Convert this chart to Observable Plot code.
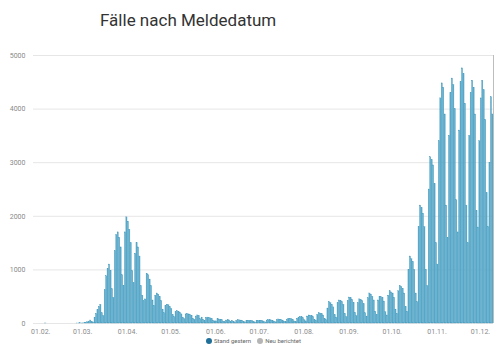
<!DOCTYPE html>
<html><head><meta charset="utf-8">
<script src="https://cdn.jsdelivr.net/npm/d3@7"></script>
<script src="https://cdn.jsdelivr.net/npm/@observablehq/plot@0.6"></script>
<style>
body{margin:0;background:#fff;font-family:Roboto,sans-serif;width:500px;height:352px;position:relative;overflow:hidden}
#title{position:absolute;left:100px;top:10px;font-size:17px;color:#333;}
#chart{position:absolute;left:0;top:44px}
#legend{position:absolute;top:337px;left:206px;font-size:6px;color:#666;display:flex;align-items:center;white-space:nowrap}
#legend .dot{display:inline-block;width:6px;height:6px;border-radius:50%;margin-right:2px}
#legend .item{display:flex;align-items:center;margin-right:6px}
</style></head>
<body>
<div id="title">Fälle nach Meldedatum</div>
<div id="chart"></div>
<div id="legend"></div>
<script>
const startDate = "2020-02-01";
const cases = [
  0,0,
  0,1,0,0,0,0,0,
  0,0,0,0,0,0,0,
  0,0,0,0,0,0,0,
  0,0,1,2,3,1,2,
  8,14,22,35,55,28,20,
  110,180,250,310,350,190,140,
  620,880,1020,1100,980,640,480,
  1350,1650,1700,1600,1420,900,700,
  1700,1980,1900,1750,1500,980,750,
  1300,1500,1420,1250,700,520,420,
  450,930,900,820,700,430,330,
  520,560,540,500,420,260,190,
  330,350,340,310,270,160,120,
  210,230,220,200,170,110,80,
  170,180,170,160,140,90,70,
  130,150,140,80,110,70,50,
  100,110,105,95,85,50,40,
  40,80,75,70,60,35,25,
  55,60,58,30,50,30,20,
  50,60,58,55,50,28,20,
  45,50,52,48,42,25,18,
  45,50,52,50,45,25,20,
  55,65,60,58,50,30,22,
  60,75,70,65,55,35,25,
  70,90,85,80,70,40,30,
  90,110,120,115,100,60,40,
  130,150,145,140,120,70,50,
  160,190,185,175,150,90,60,
  280,400,380,350,300,160,110,
  380,430,420,400,350,180,120,
  420,485,470,440,380,200,140,
  380,450,440,420,360,190,130,
  470,560,540,500,430,220,160,
  430,500,490,470,410,210,150,
  520,600,580,560,480,260,180,
  600,700,680,650,560,310,220,
  1000,1250,1200,1150,1000,560,400,
  1800,2200,2150,2050,1800,1000,700,
  2500,3100,3050,2950,2600,1500,1100,
  3400,4200,4480,4400,3900,2200,1600,
  3500,4300,4570,4450,4000,2300,1700,
  3600,4500,4760,4650,4100,2200,1500,
  3500,4300,4530,4400,3900,2100,1790,
  3400,4200,4530,4350,3800,2430,1800,
  3000,4220,3900
];
const tickDates = ["2020-02-01","2020-03-01","2020-04-01","2020-05-01","2020-06-01","2020-07-01","2020-08-01","2020-09-01","2020-10-01","2020-11-01","2020-12-01"];
const xDomain = ["2020-01-27","2020-12-10"];
const markerDates = ["2020-12-10"];
const yTicks = [0,1000,2000,3000,4000,5000];
const legendLabels = ["Stand gestern","Neu berichtet"];
const legendColors = ["#1f6f98","#b5b5b5"];

const start = new Date(startDate);
const data = cases.map((v,i) => ({date: d3.utcDay.offset(start,i), next: d3.utcDay.offset(start,i+1), value: v}));

const chart = Plot.plot({
  width: 500, height: 295,
  marginLeft: 33, marginRight: 7, marginTop: 11, marginBottom: 16,
  style: {fontSize: "7px", color: "#8a8a8a", fontFamily: "Roboto, sans-serif", background: "transparent"},
  x: {type: "utc", domain: xDomain.map(d => new Date(d)), ticks: tickDates.map(d => new Date(d)),
      tickFormat: d3.utcFormat("%d.%m."), tickSize: 0, tickPadding: 6, label: null},
  y: {domain: [0,5000], ticks: yTicks, tickSize: 0, tickPadding: 8, label: null, tickFormat: d => String(d)},
  marks: [
    Plot.ruleY(yTicks, {stroke: "#e6e6e6", strokeWidth: 1}),
    Plot.rectY(data, {x1: "date", x2: "next", y: "value", fill: "#58aacb", stroke: "#4a9cbe", strokeWidth: 0.3, insetLeft: 0.25}),
    Plot.ruleX(markerDates.map(d => new Date(d)), {y1: 0, y2: 5000, stroke: "#bdbdbd", strokeWidth: 1})
  ]
});
document.getElementById("chart").appendChild(chart);

const lg = document.getElementById("legend");
legendLabels.forEach((t,i) => {
  const it = document.createElement("span"); it.className = "item";
  const dt = document.createElement("span"); dt.className = "dot"; dt.style.background = legendColors[i];
  it.appendChild(dt); it.appendChild(document.createTextNode(t));
  lg.appendChild(it);
});
</script>
</body></html>
